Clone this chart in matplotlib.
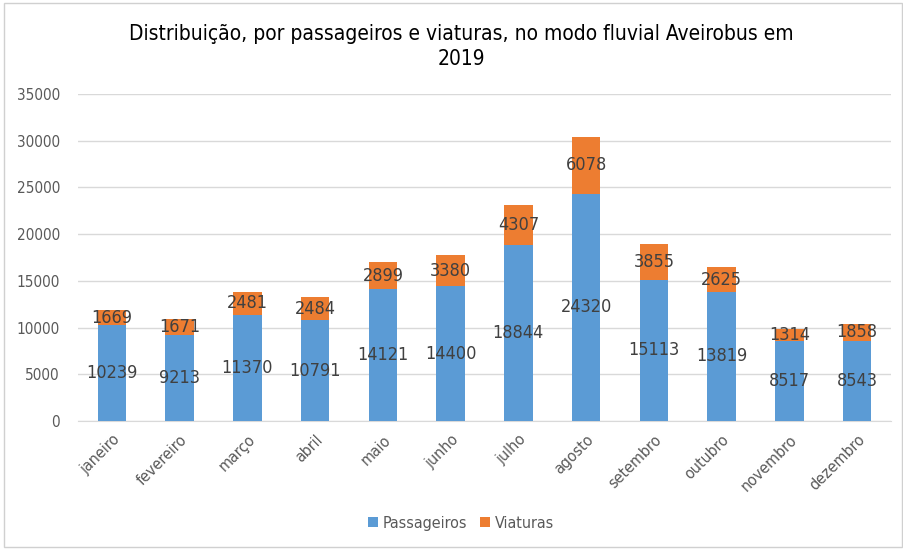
import matplotlib
matplotlib.use("Agg")
import matplotlib.pyplot as plt
from matplotlib.patches import Rectangle
import numpy as np

plt.rcParams['font.family'] = ['DejaVu Sans']
plt.rcParams['font.stretch'] = 'condensed'

months = ["janeiro", "fevereiro", "março", "abril", "maio", "junho", "julho",
          "agosto", "setembro", "outubro", "novembro", "dezembro"]
passageiros = [10239, 9213, 11370, 10791, 14121, 14400, 18844, 24320, 15113, 13819, 8517, 8543]
viaturas = [1669, 1671, 2481, 2484, 2899, 3380, 4307, 6078, 3855, 2625, 1314, 1858]
yticks = [0, 5000, 10000, 15000, 20000, 25000, 30000, 35000]

blue = "#5B9BD5"
orange = "#ED7D31"
txt = "#404040"

fig = plt.figure(figsize=(9.04, 5.49), dpi=100)
ax = fig.add_axes([0.0863, 0.2332, 0.8993, 0.5956])
x = np.arange(len(months))
w = 0.42
b1 = ax.bar(x, passageiros, w, color=blue, label="Passageiros", zorder=3)
b2 = ax.bar(x, viaturas, w, bottom=passageiros, color=orange, label="Viaturas", zorder=3)
ax.bar_label(b1, labels=[str(v) for v in passageiros], label_type='center', color=txt, fontsize=13)
ax.bar_label(b2, labels=[str(v) for v in viaturas], label_type='center', color=txt, fontsize=13)

ax.set_xlim(-0.5, len(months) - 0.5)
ax.set_ylim(0, 35000)
ax.set_yticks(yticks)
ax.set_yticklabels([str(v) for v in yticks], color="#595959", fontsize=11)
ax.set_xticks(x)
ax.set_xticklabels(months, rotation=45, ha='right', rotation_mode='anchor', color="#595959", fontsize=11.5)
ax.tick_params(axis='x', length=0, pad=8)
ax.tick_params(axis='y', length=0, pad=13)
ax.grid(axis='y', color="#D9D9D9", linewidth=1, zorder=0)
for s in ["top", "right", "left"]:
    ax.spines[s].set_visible(False)
ax.spines["bottom"].set_color("#D9D9D9")

fig.text(0.51, 0.915, "Distribuição, por passageiros e viaturas, no modo fluvial Aveirobus em\n2019",
         ha='center', va='center', fontsize=15, color="#000000", linespacing=1.3)

fig.legend(handles=[b1, b2], loc='center', bbox_to_anchor=(0.51, 0.047), ncol=2, frameon=False,
           fontsize=11.5, handlelength=0.6, handleheight=0.6, columnspacing=0.8, handletextpad=0.3,
           labelcolor="#595959")

fig.patches.append(Rectangle((0.004, 0.004), 0.994, 0.99, transform=fig.transFigure,
                             fill=False, edgecolor="#D0D0D0", linewidth=1))

fig.savefig("out.png", dpi=100)
